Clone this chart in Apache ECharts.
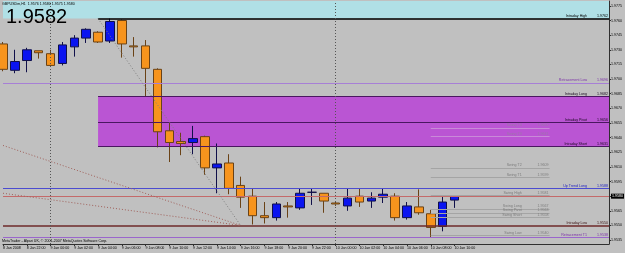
<!DOCTYPE html>
<html>
<head>
<meta charset="utf-8">
<script src="https://cdn.jsdelivr.net/npm/echarts@6/dist/echarts.min.js"></script>
<style>
html, body { margin: 0; padding: 0; background: #c0c0c0; }
#chart { width: 625px; height: 253px; }
</style>
</head>
<body>
<div id="chart"></div>
<script>
// GBPUSDm H1 bars, 8 Jan 20:00 .. 10 Jan 10:00, then empty slots to the right
var categories = [
  '8 Jan 2008', '8 Jan 21:00', '8 Jan 22:00', '8 Jan 23:00',
  '9 Jan 00:00', '9 Jan 01:00', '9 Jan 02:00', '9 Jan 03:00', '9 Jan 04:00', '9 Jan 05:00',
  '9 Jan 06:00', '9 Jan 07:00', '9 Jan 08:00', '9 Jan 09:00', '9 Jan 10:00', '9 Jan 11:00',
  '9 Jan 12:00', '9 Jan 13:00', '9 Jan 14:00', '9 Jan 15:00', '9 Jan 16:00', '9 Jan 17:00',
  '9 Jan 18:00', '9 Jan 19:00', '9 Jan 20:00', '9 Jan 21:00', '9 Jan 22:00', '9 Jan 23:00',
  '10 Jan 00:00', '10 Jan 01:00', '10 Jan 02:00', '10 Jan 03:00', '10 Jan 04:00', '10 Jan 05:00',
  '10 Jan 06:00', '10 Jan 07:00', '10 Jan 08:00', '10 Jan 09:00', '10 Jan 10:00',
  '10 Jan 11:00', '10 Jan 12:00', '10 Jan 13:00', '10 Jan 14:00', '10 Jan 15:00', '10 Jan 16:00',
  '10 Jan 17:00', '10 Jan 18:00', '10 Jan 19:00', '10 Jan 20:00', '10 Jan 21:00', '10 Jan 22:00',
  '10 Jan 23:00'
];
var barCount = 39;

var openPrices = [1.9736, 1.9709, 1.9719, 1.9729, 1.9726, 1.9716, 1.9733, 1.9742, 1.9748, 1.9739,
  1.9760, 1.9734, 1.9734, 1.9710, 1.9647, 1.9636, 1.9635, 1.9641, 1.9609, 1.9614,
  1.9591, 1.9580, 1.9560, 1.9558, 1.9570, 1.9568, 1.9584, 1.9583, 1.9573, 1.9570,
  1.9580, 1.9575, 1.9579, 1.9580, 1.9558, 1.9569, 1.9562, 1.9549, 1.9576];
var closePrices = [1.9710, 1.9718, 1.9730, 1.9727, 1.9714, 1.9735, 1.9742, 1.9751, 1.9738, 1.9759,
  1.9736, 1.9733, 1.9711, 1.9646, 1.9635, 1.9634, 1.9639, 1.9609, 1.9613, 1.9588,
  1.9579, 1.9560, 1.9558, 1.9572, 1.9569, 1.9583, 1.9584, 1.9575, 1.9572, 1.9578,
  1.9574, 1.9578, 1.9582, 1.9558, 1.9570, 1.9563, 1.9548, 1.9574, 1.9580];
var lowPrices = [1.9708, 1.9706, 1.9707, 1.9721, 1.9713, 1.9714, 1.9723, 1.9737, 1.9737, 1.9737,
  1.9722, 1.9723, 1.9682, 1.9630, 1.9615, 1.9622, 1.9623, 1.9602, 1.9583, 1.9582,
  1.9568, 1.9551, 1.9552, 1.9555, 1.9558, 1.9566, 1.9571, 1.9563, 1.9570, 1.9565,
  1.9569, 1.9568, 1.9573, 1.9555, 1.9556, 1.9561, 1.9538, 1.9544, 1.9568];
var highPrices = [1.9738, 1.9730, 1.9732, 1.9729, 1.9730, 1.9738, 1.9745, 1.9752, 1.9749, 1.9762,
  1.9761, 1.9743, 1.9740, 1.9711, 1.9656, 1.9645, 1.9652, 1.9642, 1.9634, 1.9623,
  1.9600, 1.9588, 1.9574, 1.9574, 1.9574, 1.9588, 1.9588, 1.9583, 1.9574, 1.9588,
  1.9588, 1.9584, 1.9588, 1.9583, 1.9574, 1.9587, 1.9566, 1.9581, 1.9580];

var priceTicks = [1.9535, 1.9550, 1.9565, 1.9580, 1.9595, 1.9610, 1.9625, 1.9640, 1.9655,
  1.9670, 1.9685, 1.9700, 1.9715, 1.9730, 1.9745, 1.9760, 1.9775];

// levels drawn across the chart
var levelNames = ['Intraday High', 'Retracement Low', 'Up Trend Long', 'Intraday Low', 'Retracement T1'];
var levelValues = [1.9762, 1.9696, 1.9588, 1.9550, 1.9538];
// intraday zone (box)
var zoneNames = ['Intraday Long', 'Intraday Pivot', 'Intraday Short'];
var zoneValues = [1.9682, 1.9656, 1.9631];
// short swing levels
var swingNames = ['Swing T4', 'Swing T3', 'Swing T2', 'Swing T1', 'Swing High', 'Swing Long', 'Swing Pivot', 'Swing Short', 'Swing Low'];
var swingValues = [1.9650, 1.9641, 1.9609, 1.9599, 1.9581, 1.9567, 1.9563, 1.9558, 1.9540];
var bidPrice = 1.9580;
var bigPrice = '1.9582';
var titleText = 'GBPUSDm,H1  1.9576 1.9580 1.9575 1.9580';
var copyText = 'MetaTrader - Alpari UK, \u00a9 2001-2007 MetaQuotes Software Corp.';

// trend lines: start bar / price -> common end point
var trendStartIdx = [8, 0, 0];
var trendStartVal = [1.9762, 1.9632, 1.9583];
var trendEndIdx = 20;
var trendEndVal = 1.9550;
var separatorIdx = [4, 28];

var yMin = 1.9531, yMax = 1.9780;
var tiny = 3.6;
var font = '"Liberation Sans", Arial, sans-serif';
var lastIdx = categories.length - 1;
var boxStart = 8, swingFrom = 36, swingTo = 46;

function spaces(n) { return new Array(n + 1).join(' '); }

var candleData = [];
for (var i = 0; i < barCount; i++) {
  candleData.push([openPrices[i], closePrices[i], lowPrices[i], highPrices[i]]);
}

var levelStyle = [
  { color: '#000000', width: 1.5, text: '#000000', from: boxStart },
  { color: '#a77fd6', width: 1, text: '#7b2fa8', from: 0 },
  { color: '#4c4cd0', width: 1, text: '#2020c0', from: 0 },
  { color: '#6e2a2a', width: 1.5, text: '#3a1010', from: 0 },
  { color: '#9a66cc', width: 1, text: '#7b2fa8', from: 0 }
];

var lines = [];
function addSeg(a, b, v, color, width, type, label) {
  lines.push([
    { coord: [a, v], lineStyle: { color: color, width: width, type: type }, label: label },
    { coord: [b, v] }
  ]);
}
function rightLabel(text, color) {
  return {
    show: true, position: 'insideEndTop', distance: [1, 0.5],
    formatter: text, color: color, fontSize: tiny, fontFamily: font
  };
}

levelNames.forEach(function (n, k) {
  var s = levelStyle[k];
  addSeg(s.from, lastIdx, levelValues[k], s.color, s.width, 'solid',
    rightLabel(n + spaces(10) + levelValues[k].toFixed(4), s.text));
});
zoneNames.forEach(function (n, k) {
  addSeg(boxStart, lastIdx, zoneValues[k], '#4a1760', 1, 'solid',
    rightLabel(n + spaces(10) + zoneValues[k].toFixed(4), '#1a0a20'));
});
swingNames.forEach(function (n, k) {
  var inBox = k < 2;
  addSeg(swingFrom, swingTo, swingValues[k], inBox ? '#c98ad8' : '#a4a4a4', 1, 'solid',
    rightLabel(n + spaces(16) + swingValues[k].toFixed(4), inBox ? '#9c78a8' : '#7c7c7c'));
});
// bid line with price tag on the axis
addSeg(0, lastIdx, bidPrice, '#c46a6a', 1, 'solid', {
  show: true, position: 'end', distance: 2, formatter: bidPrice.toFixed(4),
  color: '#ffffff', backgroundColor: '#000000', padding: [1, 1, 0, 1],
  fontSize: tiny, fontFamily: font
});
// trend lines
trendStartIdx.forEach(function (s, k) {
  lines.push([
    { coord: [s, trendStartVal[k]], lineStyle: { color: k === 0 ? '#7e7e7e' : '#a0605a', width: 1, type: [1, 2] }, label: { show: false } },
    { coord: [trendEndIdx, trendEndVal] }
  ]);
});
// day separators
separatorIdx.forEach(function (s) {
  lines.push({ xAxis: s, lineStyle: { color: '#555555', width: 1, type: [1, 2] }, label: { show: false } });
});

var option = {
  animation: false,
  backgroundColor: '#c0c0c0',
  grid: { left: 1, right: 14, top: 1, bottom: 9 },
  xAxis: {
    type: 'category',
    data: categories,
    boundaryGap: false,
    axisLine: { lineStyle: { color: '#303030', width: 1 } },
    axisTick: {
      show: true, length: 2, lineStyle: { color: '#303030' },
      interval: function (idx) { return idx % 2 === 0 && idx < barCount; }
    },
    axisLabel: {
      fontSize: tiny, fontFamily: font, color: '#000000', margin: 2, align: 'left',
      interval: function (idx) { return idx % 2 === 0 && idx < barCount; }
    },
    splitLine: { show: false }
  },
  yAxis: {
    type: 'value',
    position: 'right',
    min: yMin,
    max: yMax,
    scale: true,
    axisLine: { show: true, lineStyle: { color: '#303030', width: 1 } },
    axisTick: { show: true, length: 2, customValues: priceTicks, lineStyle: { color: '#303030' } },
    axisLabel: {
      customValues: priceTicks, fontSize: tiny, fontFamily: font, color: '#000000', margin: 2,
      formatter: function (v) { return v.toFixed(4); }
    },
    splitLine: { show: false }
  },
  graphic: [
    { type: 'text', left: 2, top: 2, style: { text: titleText, fontSize: tiny, fontFamily: font, fill: '#000000' }, z: 10 },
    { type: 'text', left: 6, top: 7, style: { text: bigPrice, fontSize: 20, fontFamily: font, fill: '#000000' }, z: 10 },
    { type: 'text', left: 2, top: 239, style: { text: copyText, fontSize: tiny, fontFamily: font, fill: '#000000' }, z: 10 }
  ],
  series: [{
    type: 'candlestick',
    data: candleData,
    barWidth: 9,
    silent: true,
    itemStyle: {
      color: '#0a14f0',
      color0: '#f7941d',
      borderColor: '#10104a',
      borderColor0: '#6a4216',
      borderWidth: 1
    },
    markArea: {
      silent: true,
      label: { show: false },
      data: [
        [{ coord: [0, yMax], itemStyle: { color: '#b0e0e6' } }, { coord: [lastIdx, levelValues[0]] }],
        [{ coord: [boxStart, zoneValues[0]], itemStyle: { color: '#ba55d3' } }, { coord: [lastIdx, zoneValues[2]] }]
      ]
    },
    markLine: {
      silent: true,
      symbol: ['none', 'none'],
      data: lines
    }
  }]
};

var chart = echarts.init(document.getElementById('chart'));
chart.setOption(option);
</script>
</body>
</html>
